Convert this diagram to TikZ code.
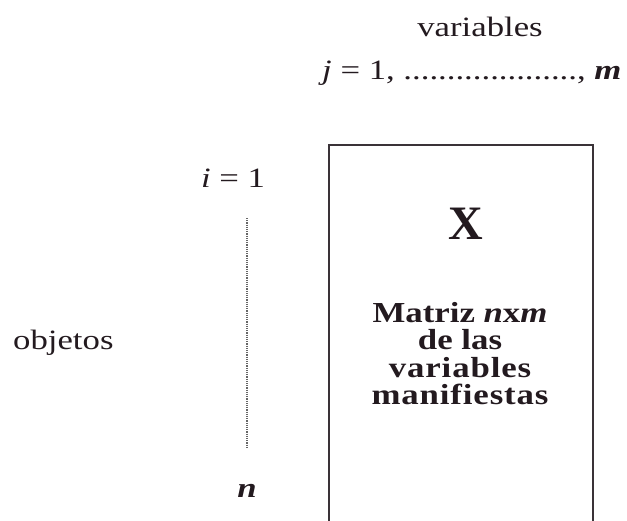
\documentclass[tikz,border=0pt]{standalone}
\usepackage{fontspec}
\setmainfont{Liberation Serif}
\newfontfamily\lblfont[FakeStretch=1.24]{Liberation Serif}
\newfontfamily\boxfont[FakeStretch=1.2]{Liberation Serif}
\newfontfamily\spacedfont[FakeStretch=1.2,LetterSpace=3]{Liberation Serif}
\definecolor{ink}{HTML}{231A1F}
\definecolor{frame}{HTML}{3A3338}
\begin{document}
\begin{tikzpicture}[x=1pt,y=-1pt,
  lbl/.style={inner sep=0pt,text=ink,font=\lblfont\fontsize{28}{30}\selectfont},
  boxtxt/.style={inner sep=0pt,text=ink,anchor=base,font=\boxfont\bfseries\fontsize{29}{27}\selectfont},
  frameline/.style={draw=frame,line width=2pt},
  dotline/.style={draw=gray!80!black,line width=2.6pt,dash pattern=on 1.2pt off 1pt}]
\useasboundingbox (0,0) rectangle (627,521);
\clip (0,0) rectangle (627,521);
\node[lbl,anchor=base] (vars) at (480,37) {variables};
\node[lbl,anchor=base west] (jrow) at (322,80) {\textit{j} = 1, ...................., \textbf{\textit{m}}};
\node[lbl,anchor=base] (ione) at (233,188) {\textit{i} = 1};
\coordinate (dtop) at (247,218);
\coordinate (dbot) at (247,447);
\draw[dotline] (dtop) -- (dbot);
\node[lbl,anchor=base] (nn) at (247,497) {\textbf{\textit{n}}};
\node[lbl,anchor=base west] (obj) at (13,350) {objetos};
\coordinate (bl) at (329,530);
\coordinate (tl) at (329,145);
\coordinate (tr) at (593,145);
\coordinate (br) at (593,530);
\draw[frameline] (bl) -- (tl) -- (tr) -- (br);
\node[boxtxt,font=\bfseries\fontsize{48}{50}\selectfont] (X) at (465.5,240) {X};
\node[boxtxt] (l1) at (460,323) {Matriz \textit{n}x\textit{m}};
\node[boxtxt] (l2) at (460,350) {de las};
\node[boxtxt,font=\spacedfont\bfseries\fontsize{29}{27}\selectfont] (l3) at (460,378) {variables};
\node[boxtxt,font=\spacedfont\bfseries\fontsize{29}{27}\selectfont] (l4) at (460,405) {manifiestas};
\end{tikzpicture}
\end{document}
